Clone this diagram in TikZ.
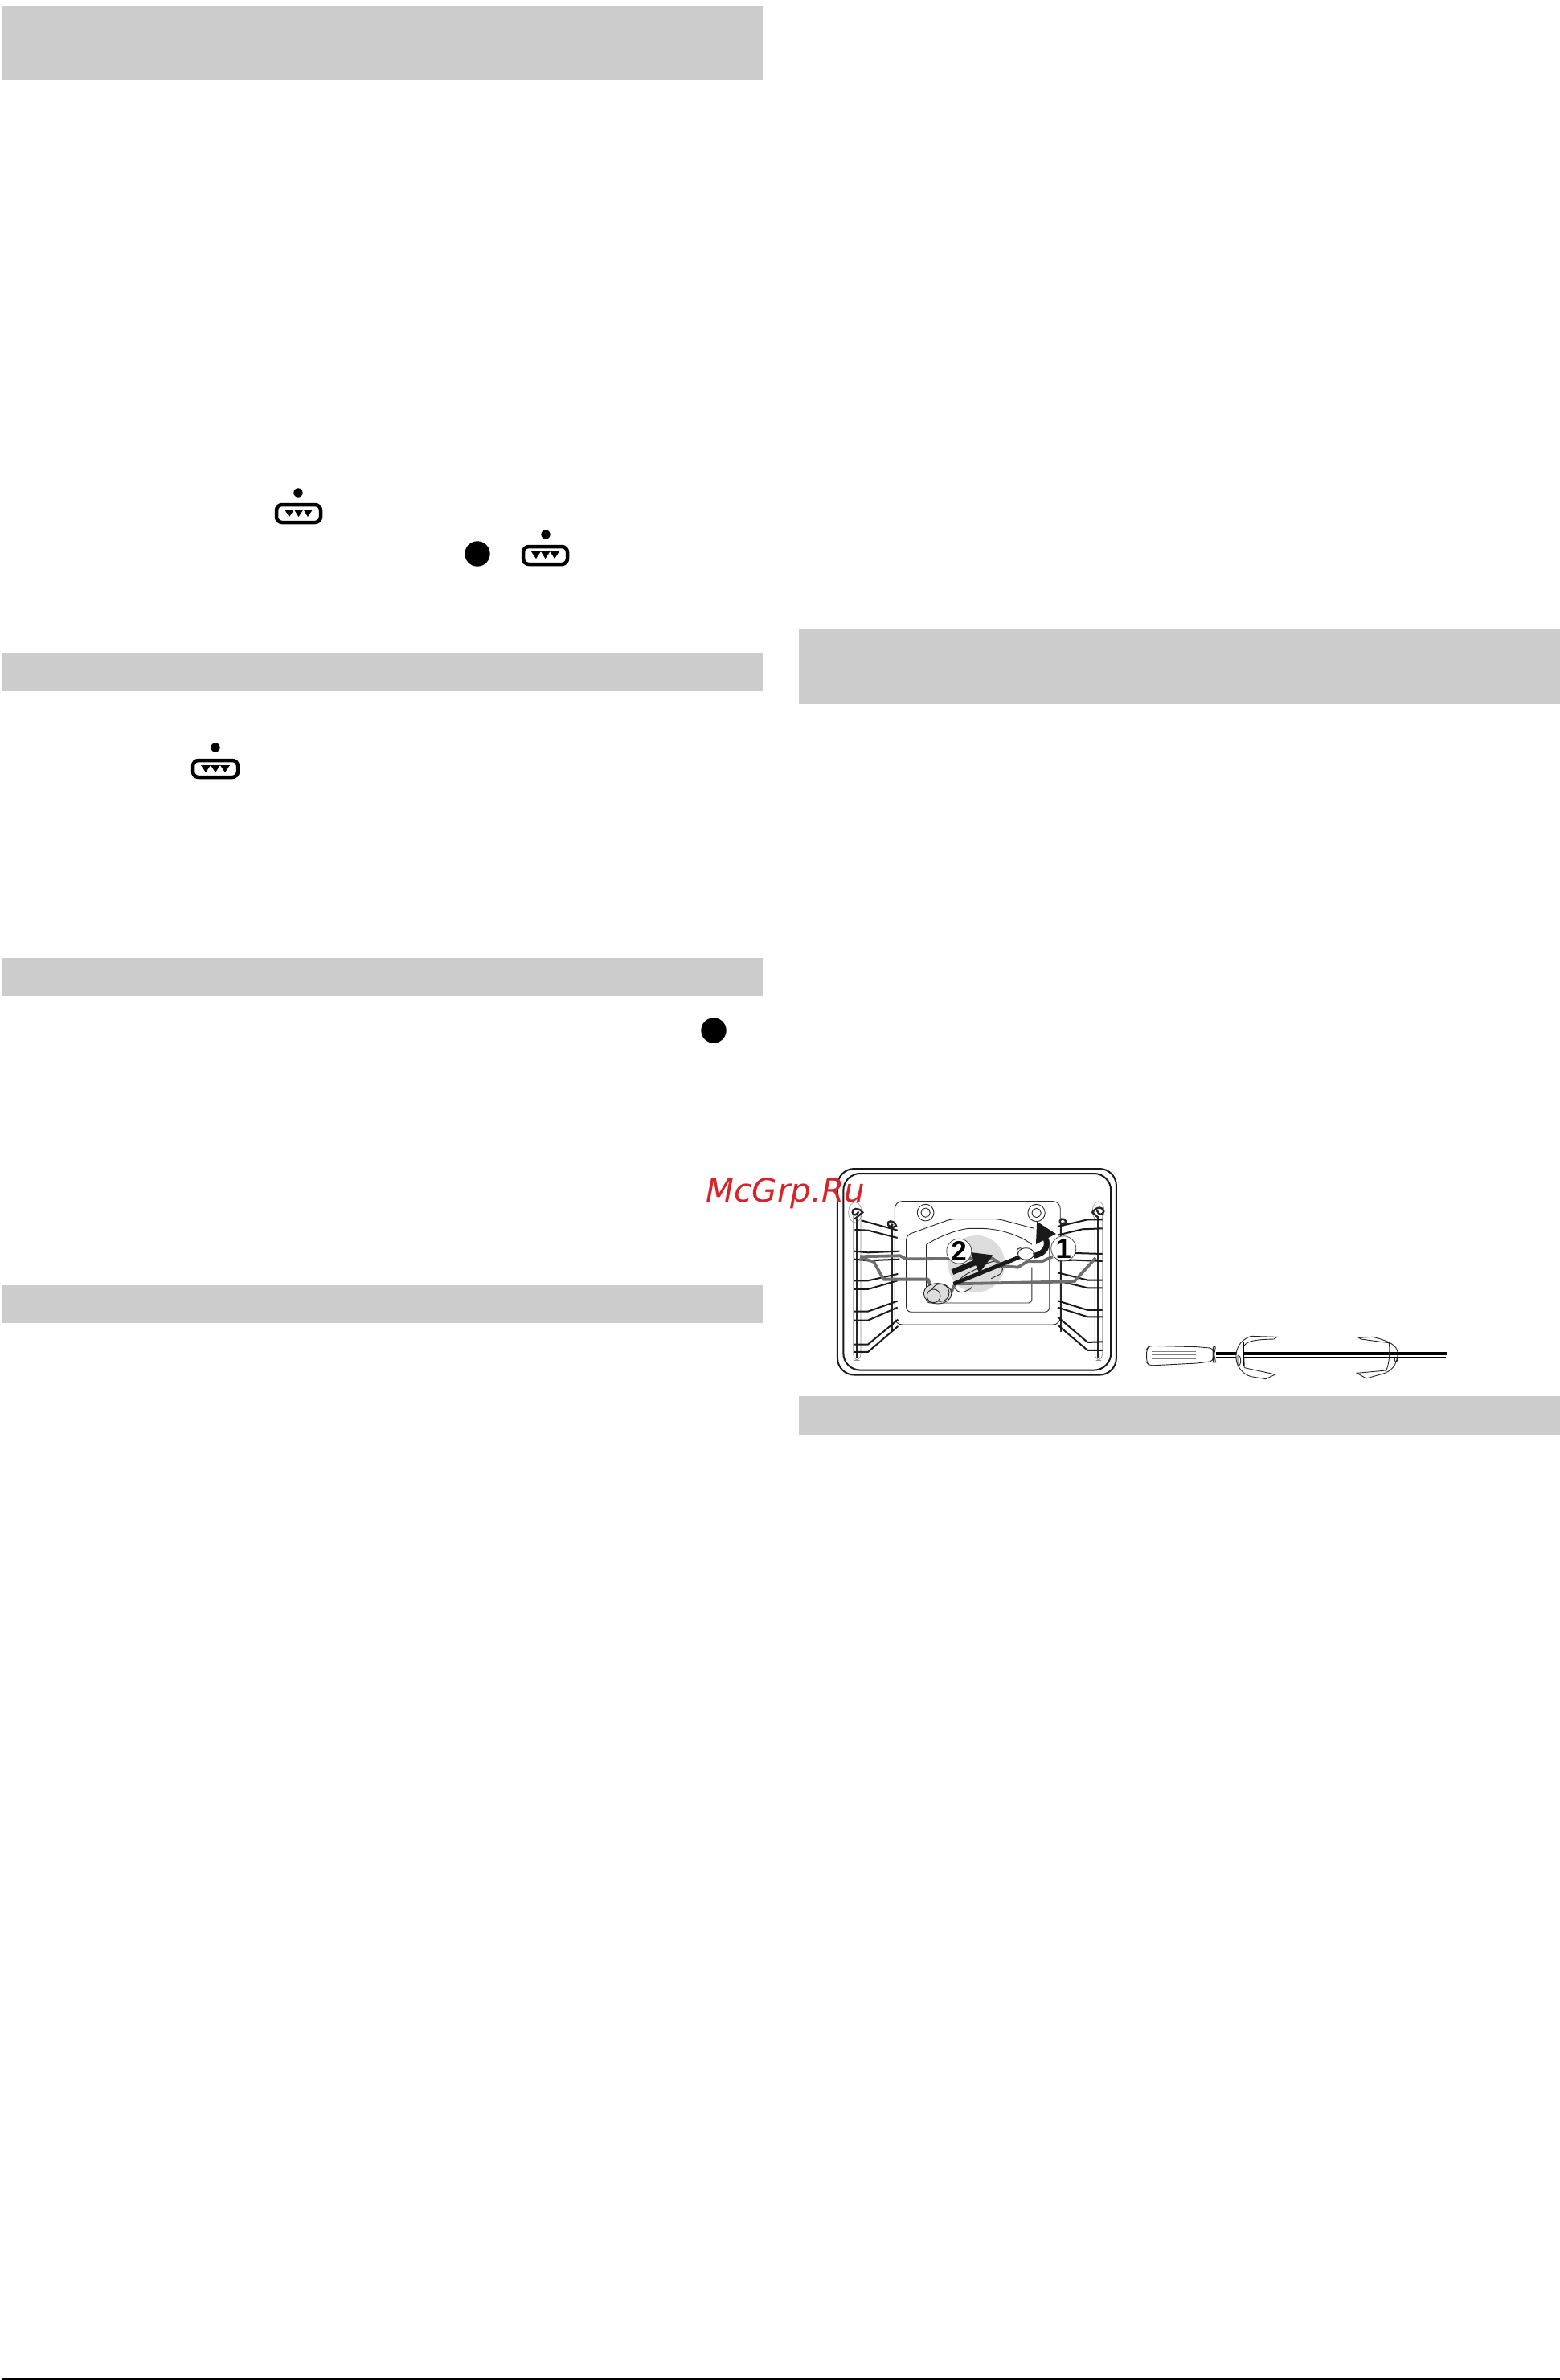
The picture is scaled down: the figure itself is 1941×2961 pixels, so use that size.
\documentclass[tikz,border=0pt]{standalone}
\usepackage{fontspec}
\usetikzlibrary{arrows.meta}
\newfontfamily\markfont{DejaVu Sans}
\newfontfamily\stepfont{Liberation Sans}
\definecolor{barcol}{HTML}{CCCCCC}
\definecolor{rodcol}{HTML}{6E6E6E}
\definecolor{spotcol}{HTML}{DCDCDC}
\definecolor{markcol}{HTML}{D8232A}
\begin{document}
\begin{tikzpicture}[x=0.1mm, y=-0.1mm,
  headbar/.style={fill=barcol},
  iconbox/.style={draw=black, line width=0.45mm, rounded corners=0.7mm},
  framecol/.style={draw=black!90, line width=0.2mm, rounded corners=2.1mm},
  panel/.style={draw=black!85, line width=0.09mm, rounded corners=0.6mm},
  post/.style={draw=black!85, line width=0.24mm},
  postrim/.style={draw=black!45, line width=0.06mm, rounded corners=0.8mm},
  shelfrod/.style={draw=black!90, line width=0.2mm},
  spitrod/.style={draw=rodcol, line width=0.38mm, line join=round},
  steparrow/.style={draw=black!90, line width=0.7mm, -{Triangle[length=2.5mm,width=2.6mm]}},
  stepnum/.style={draw=black!70, fill=white, circle, line width=0.08mm, inner sep=0pt, minimum size=3.1mm, font=\stepfont\fontsize{9.8pt}{10pt}\selectfont\bfseries},
  forkline/.style={draw=black!85, line width=0.09mm}]
\useasboundingbox (0,0) rectangle (1941,2961);
\fill[headbar] (2,7) rectangle (949,100);
\fill[headbar] (2,813) rectangle (949,860);
\fill[headbar] (2,1192) rectangle (949,1239);
\fill[headbar] (2,1599) rectangle (949,1646);
\fill[headbar] (994,783) rectangle (1941,876);
\fill[headbar] (994,1737) rectangle (1941,1785);
\fill (2,2958) rectangle (1941,2961);
\fill (371,613) circle (5.7);
\draw[iconbox] (344,628) rectangle (399,650);
\fill (354,634) -- (389,634) -- (383,643) -- (377.5,634) -- (371.5,643) -- (366,634) -- (360,643) -- cycle;
\fill (594,689) circle (15.7);
\fill (679,665) circle (5.7);
\draw[iconbox] (651,680) rectangle (706,702);
\fill (661,686) -- (696,686) -- (690,695) -- (684.5,686) -- (678.5,695) -- (673,686) -- (667,695) -- cycle;
\fill (268,930) circle (5.7);
\draw[iconbox] (240,946) rectangle (296,967);
\fill (250,952) -- (286,952) -- (280,961) -- (274,952) -- (268,961) -- (262,952) -- (256,961) -- cycle;
\fill (888,1282) circle (15.7);
\begin{scope}[shift={(1000,1400)}, x=0.03333mm, y=-0.03333mm]
\draw[framecol] (126,162) rectangle (1167,932);
\draw[framecol] (148,180) rectangle (1147,914);
\draw[panel, rounded corners=0.9mm] (340,284) rectangle (958,744);
\draw[panel] (860,385) -- (728,350) -- (550,350) -- (383,410) -- (383,697) -- (918,697) -- (918,430);
\draw[panel, rounded corners=0.4mm] (852,530) -- (852,663) -- (458,663) -- (458,445);
\draw[panel] (458,445) .. controls (530,400) and (600,385) .. (640,385) .. controls (720,385) and (800,405) .. (852,445);
\draw[panel] (455,326) circle (31);
\draw[panel] (455,326) circle (17);
\draw[panel] (869,327) circle (32);
\draw[panel] (869,327) circle (17);
\fill[spotcol] (645,517) circle (106);
\draw[postrim] (185,330) -- (185,878) -- (213,878) -- (213,330);
\draw[postrim] (192,325) ellipse (25 and 38);
\draw[postrim] (1087,330) -- (1087,878) -- (1115,878) -- (1115,330);
\draw[postrim] (1100,320) ellipse (22 and 35);
\draw[post] (200,350) -- (200,870);
\draw[post] (330,370) -- (330,770);
\draw[post] (960,370) -- (960,770);
\draw[post] (1100,340) -- (1100,870);
\draw[post] (190,350) -- (220,325) .. controls (205,305) and (180,310) .. (182,325) .. controls (185,340) and (200,335) .. (205,322);
\draw[post] (325,385) -- (345,375) .. controls (335,350) and (310,355) .. (315,372) .. controls (320,380) and (330,378) .. (332,368);
\draw[post] (965,375) .. controls (990,365) and (975,345) .. (962,350) .. controls (950,358) and (958,372) .. (972,365);
\draw[post] (1100,345) -- (1078,325) .. controls (1095,300) and (1120,305) .. (1120,322) .. controls (1115,338) and (1100,335) .. (1095,318);
\draw[shelfrod] (215,355) -- (350,392);
\draw[shelfrod] (190,390) -- (240,392) -- (350,420);
\draw[shelfrod] (188,470) -- (240,475) -- (358,470);
\draw[shelfrod] (188,500) -- (240,505) -- (358,500);
\draw[shelfrod] (188,580) -- (240,580) -- (352,555);
\draw[shelfrod] (188,612) -- (240,612) -- (350,580);
\draw[shelfrod] (188,695) -- (240,695) -- (350,656);
\draw[shelfrod] (188,728) -- (240,728) -- (350,680);
\draw[shelfrod] (188,818) -- (240,818) -- (352,725);
\draw[shelfrod] (188,846) -- (240,846) -- (352,750);
\draw[shelfrod] (948,378) -- (1060,352) -- (1115,352);
\draw[shelfrod] (948,410) -- (1040,388) -- (1115,385);
\draw[shelfrod] (948,480) -- (1010,477) -- (1115,480);
\draw[shelfrod] (948,505) -- (1010,503) -- (1115,507);
\draw[shelfrod] (948,550) -- (1060,578) -- (1115,578);
\draw[shelfrod] (948,580) -- (1060,607) -- (1115,607);
\draw[shelfrod] (948,655) -- (1060,690) -- (1115,690);
\draw[shelfrod] (948,680) -- (1060,715) -- (1115,715);
\draw[shelfrod] (948,715) -- (1060,810) -- (1115,808);
\draw[shelfrod] (948,745) -- (1060,840) -- (1115,840);
\draw[forkline, rounded corners=0.5mm] (565,590) -- (600,560) -- (690,512) -- (725,505) -- (740,525) -- (745,550) -- (700,572);
\draw[forkline, rounded corners=0.5mm] (565,610) -- (585,628) -- (635,605) -- (630,595);
\draw[spitrod] (210,490) -- (360,487) -- (382,499) -- (705,497) -- (745,525) -- (800,530) -- (835,508) -- (890,508) -- (930,490);
\draw[spitrod] (210,493) -- (262,510) -- (298,575) -- (465,575) -- (480,625);
\draw[spitrod] (550,625) -- (565,592) -- (1010,583) -- (1090,495);
\draw[line width=0.5mm, black!90] (560,592) -- (810,490);
\draw[forkline, fill=spotcol] (500,628) ellipse (52 and 38);
\draw[forkline, fill=spotcol] (510,625) circle (33);
\draw[forkline, fill=spotcol] (485,637) circle (25);
\draw[forkline, fill=white] (808,470) circle (12);
\draw[forkline, fill=white] (830,480) ellipse (30 and 22);
\coordinate (tail1) at (858,487);
\coordinate (tip1) at (870,358);
\coordinate (tail2) at (555,548);
\coordinate (tip2) at (708,484);
\draw[steparrow] (tail1) .. controls (905,480) and (915,445) .. (tip1);
\draw[steparrow] (tail2) -- (tip2);
\node (one) [stepnum] at (970,460) {1};
\node (two) [stepnum] at (580,470) {2};
\end{scope}
\begin{scope}[shift={(1400,1620)}, x=0.03333mm, y=-0.03333mm]
\draw[forkline, fill=white, rounded corners=0.4mm] (90,163) -- (270,167) -- (328,172) -- (328,220) -- (270,228) -- (90,237) -- (80,225) -- (80,175) -- cycle;
\draw[forkline, fill=white, rounded corners=0.2mm] (328,165) -- (338,165) -- (332,195) -- (338,225) -- (328,225) -- cycle;
\draw[forkline, black!50] (100,183) -- (265,183);
\draw[forkline, black!50] (100,197) -- (265,197);
\draw[forkline, black!50] (100,212) -- (265,212);
\draw[line width=0.33mm] (338,192) -- (1200,192);
\draw[line width=0.1mm] (338,205) -- (1197,205);
\draw[forkline, fill=white] (567,130) -- (470,127) .. controls (430,140) and (415,170) .. (414,200) .. controls (412,240) and (440,270) .. (470,278) -- (525,287) -- (560,270) -- (445,245) -- (442,165) .. controls (455,145) and (480,140) .. (555,138) -- cycle;
\draw[forkline] (420,200) .. controls (435,195) and (435,240) .. (420,238) -- cycle;
\draw[line width=0.1mm] (442,150) -- (442,240);
\draw[forkline, fill=white] (872,133) -- (925,130) .. controls (985,145) and (1015,160) .. (1018,190) .. controls (1015,240) and (990,260) .. (960,268) -- (900,285) -- (865,265) -- (975,255) .. controls (985,230) and (990,190) .. (985,152) -- (880,138) -- cycle;
\draw[forkline] (1005,205) .. controls (1020,205) and (1020,225) .. (1008,222) -- cycle;
\draw[line width=0.33mm] (988,192) -- (1200,192);
\draw[line width=0.1mm] (988,205) -- (1197,205);
\end{scope}
\node (mark) [anchor=base west, inner sep=0pt, text=markcol, font=\markfont\itshape\fontsize{11.5pt}{13pt}\selectfont] at (878,1495) {McGrp.Ru};
\end{tikzpicture}
\end{document}
